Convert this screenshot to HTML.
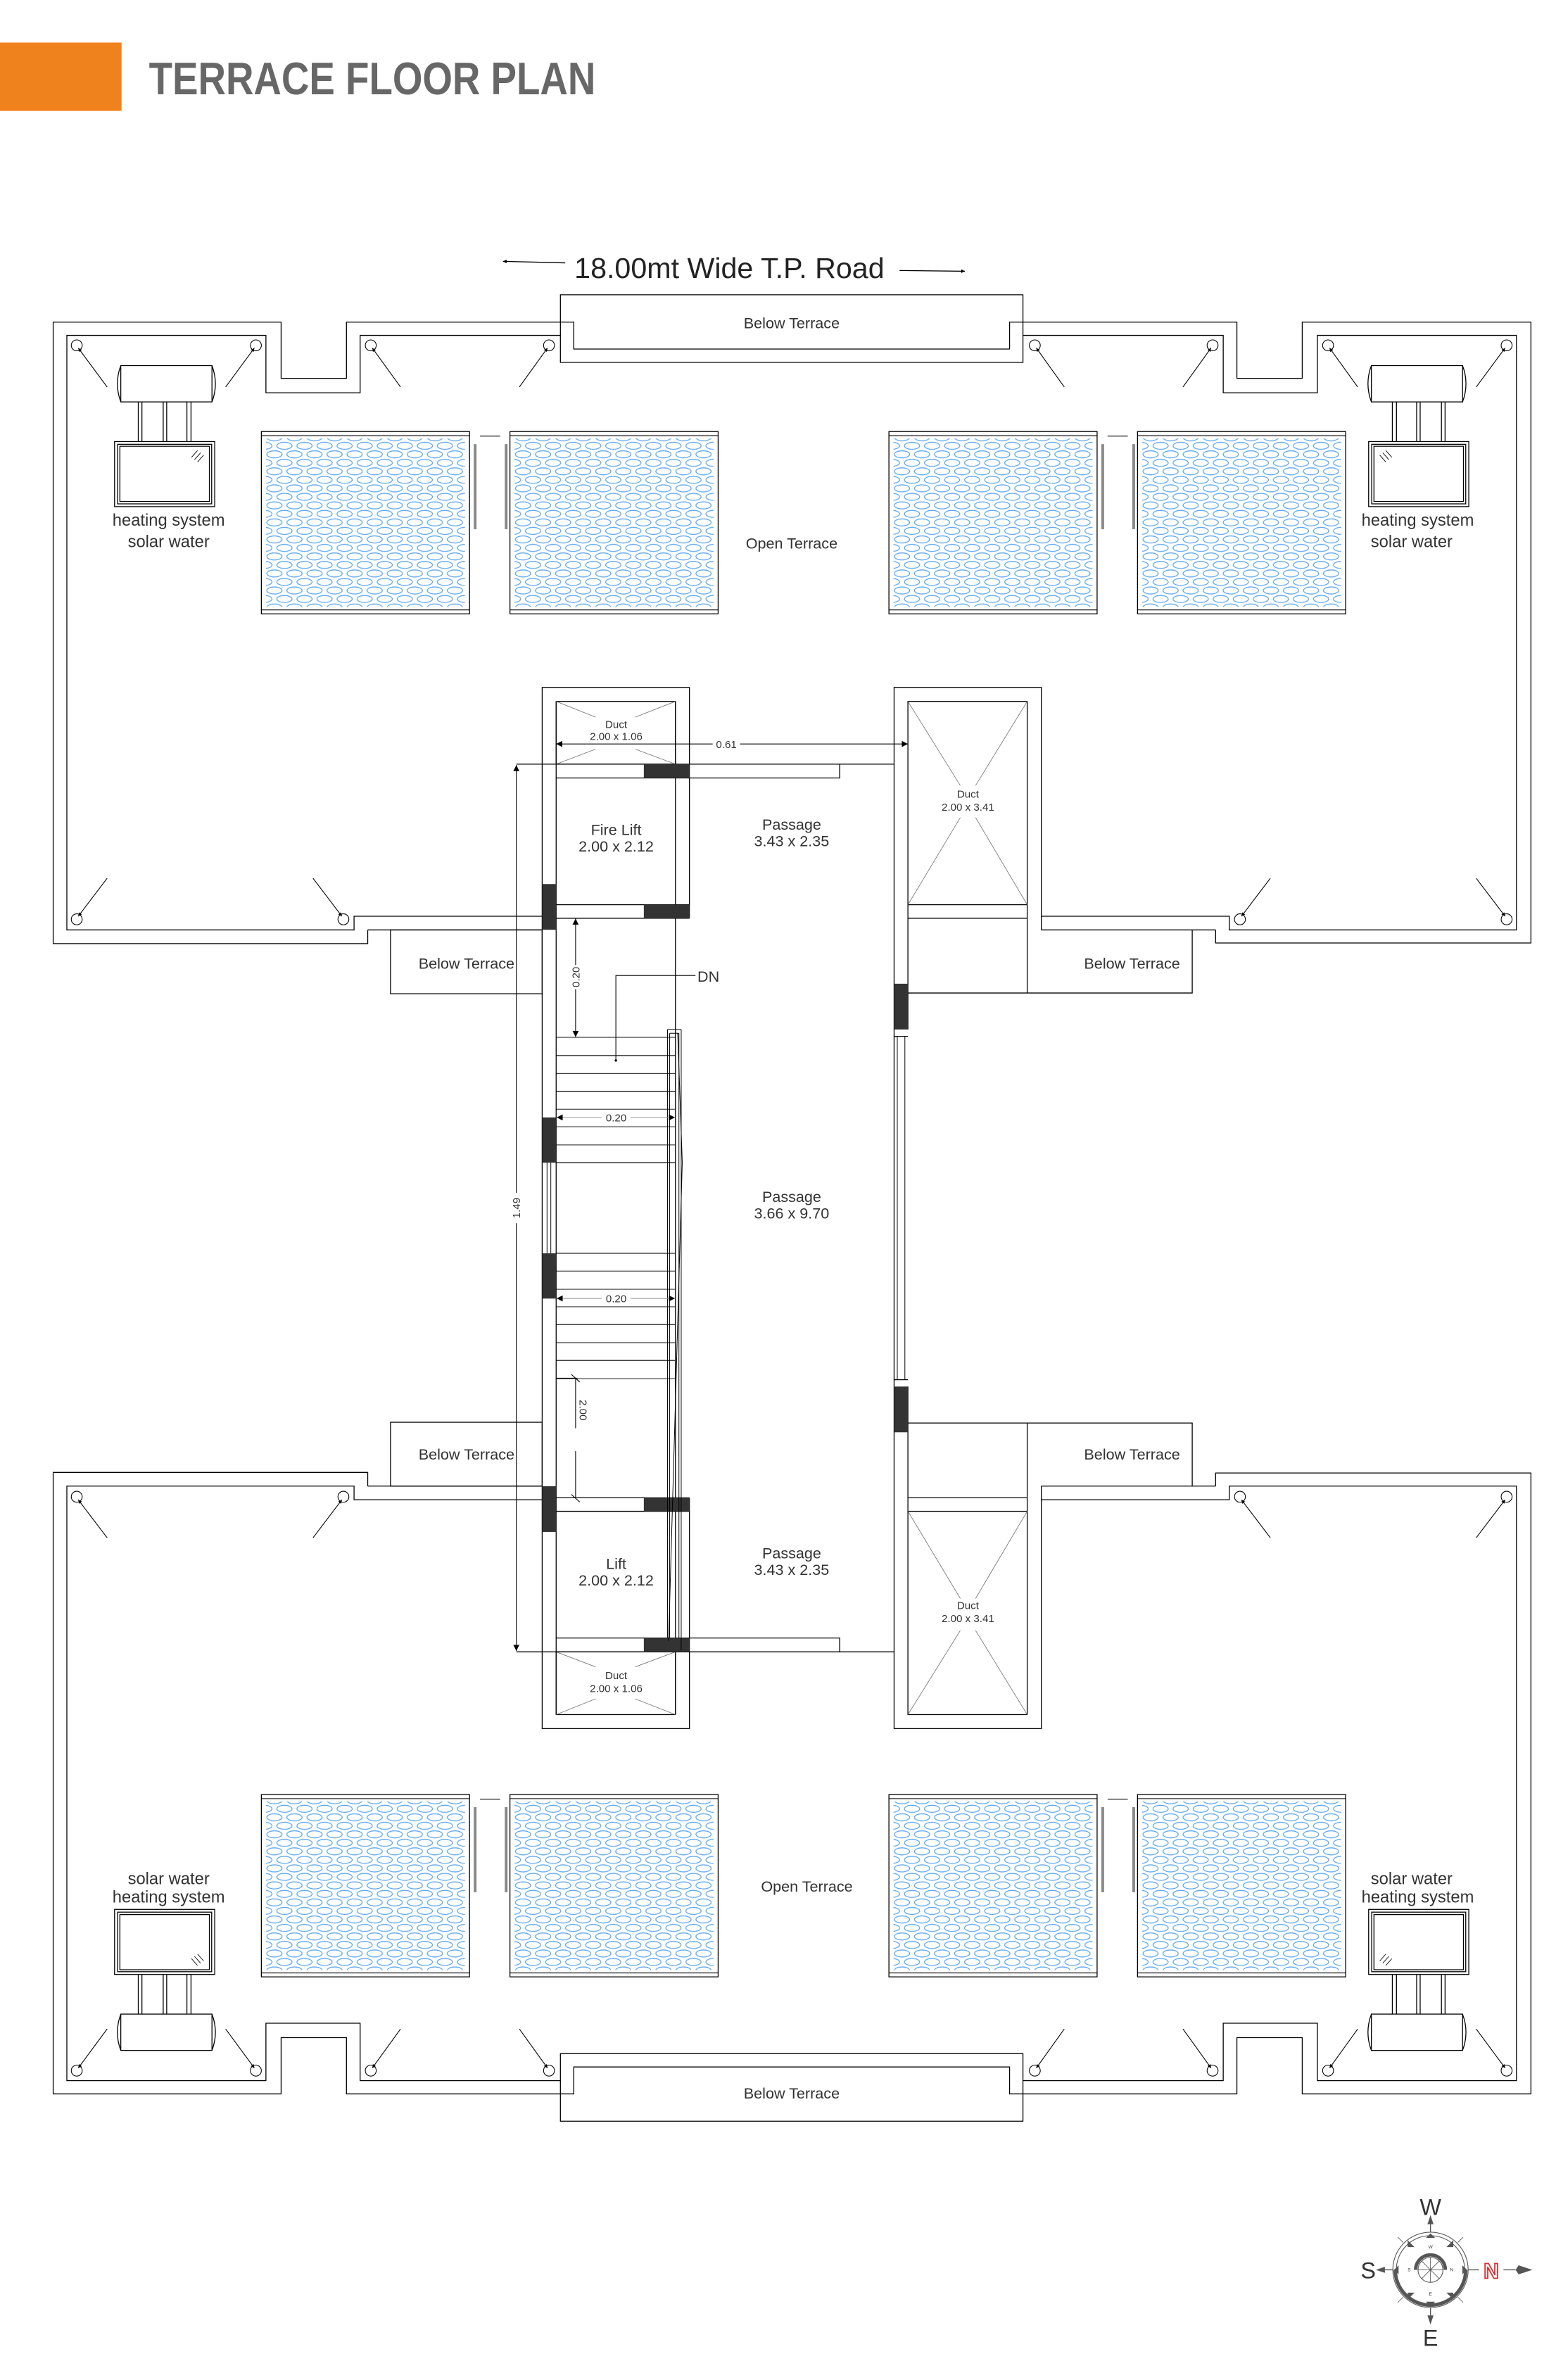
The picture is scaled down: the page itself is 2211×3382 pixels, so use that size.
<!DOCTYPE html>
<html><head><meta charset="utf-8"><style>
html,body{margin:0;padding:0;background:#fff}
svg{display:block}
text{font-family:"Liberation Sans",Arial,sans-serif;fill:#333}
</style></head><body>
<svg width="2211" height="3382" viewBox="0 0 1024 1566.3" preserveAspectRatio="none" xmlns="http://www.w3.org/2000/svg">
<defs>
<marker id="ar" viewBox="0 0 10 10" refX="10" refY="5" markerUnits="userSpaceOnUse" markerWidth="7" markerHeight="4" orient="auto-start-reverse"><path d="M0,0L10,5L0,10z" fill="#000"/></marker>
<marker id="ars" viewBox="0 0 10 10" refX="10" refY="5" markerUnits="userSpaceOnUse" markerWidth="3" markerHeight="2.4" orient="auto-start-reverse"><path d="M0,0L10,5L0,10z" fill="#000"/></marker>
<pattern id="ell" patternUnits="userSpaceOnUse" width="13.2" height="11.2" x="2" y="1">
<g fill="none" stroke="#5aa6f0" stroke-width="0.6">
<ellipse cx="6.6" cy="2.8" rx="5" ry="2.3"/>
<ellipse cx="0" cy="8.4" rx="5" ry="2.3"/>
<ellipse cx="13.2" cy="8.4" rx="5" ry="2.3"/>
</g></pattern>
<g id="panel">
<rect x="0" y="0" width="137" height="120" fill="#fff" stroke="#000" stroke-width="0.6"/>
<line x1="0" y1="2.7" x2="137" y2="2.7" stroke="#000" stroke-width="0.5"/>
<line x1="0" y1="117.4" x2="137" y2="117.4" stroke="#000" stroke-width="0.5"/>
<rect x="3" y="4.5" width="131" height="111" fill="url(#ell)"/>
</g>
<g id="panelpair">
<use href="#panel" x="172" y="284"/>
<use href="#panel" x="335.6" y="284"/>
<line x1="315.9" y1="287" x2="329.2" y2="287" stroke="#000" stroke-width="0.5"/>
<rect x="311.8" y="292.3" width="1.8" height="56" fill="#888"/>
<rect x="332.2" y="292.3" width="1.8" height="56" fill="#888"/>
</g>
<g id="heater" fill="none" stroke="#000" stroke-width="0.6">
<rect x="79.5" y="240.6" width="60" height="23.9" fill="#fff"/>
<path d="M79.5,240.6 Q75,252.5 79.5,264.5 M139.5,240.6 Q144,252.5 139.5,264.5"/>
<path d="M91,264.5V290.6 M93.4,264.5V290.6 M107.4,264.5V290.6 M109.7,264.5V290.6 M123,264.5V290.6 M125.7,264.5V290.6"/>
<rect x="75.4" y="290.6" width="65.9" height="42.8"/>
<rect x="77.4" y="292.4" width="61.9" height="39.2"/>
<rect x="78.9" y="293.7" width="58.9" height="36.3"/>
<path d="M126,301 L130,296.5 M128,302.5 L132,298 M130,304 L134,299.5" stroke-width="0.4"/>
</g>
<g id="half" fill="none" stroke="#000" stroke-width="0.6">
<path d="M242,612 V621 H35 V212 H185 V249 H228 V212 H377.6 V229.7 H664.4 V212 H814 V249 H857 V212 H1007.5 V620.6 H800 V612"/>
<path d="M356.8,603 H233 V612 H44 V220.7 H175 V258.5 H237 V220.7 H368.8 V238.5 H673.2 V220.7 H805 V258.5 H867 V220.7 H998 V612 H809 V603 H685.3"/>
<path d="M368.8,220.7 V194 H673.2 V220.7"/>
<path d="M242,612 H356.8 M685.3,612 H800"/>
<rect x="257" y="612" width="99.8" height="42"/>
<path d="M597.5,653.5 H784.6 V612"/>
<g stroke-width="0.5">
<circle cx="50.5" cy="227.3" r="3.6"/><circle cx="168.4" cy="227.3" r="3.6"/><circle cx="244" cy="227.3" r="3.6"/><circle cx="361.3" cy="227.3" r="3.6"/>
<circle cx="681" cy="227.3" r="3.6"/><circle cx="798" cy="227.3" r="3.6"/><circle cx="874" cy="227.3" r="3.6"/><circle cx="991.5" cy="227.3" r="3.6"/>
<circle cx="50.5" cy="605" r="3.6"/><circle cx="226" cy="605" r="3.6"/><circle cx="816" cy="605" r="3.6"/><circle cx="991.5" cy="605" r="3.6"/>
<line x1="70.5" y1="254.7" x2="51.5" y2="229" marker-end="url(#ars)"/>
<line x1="148.5" y1="254.7" x2="167.4" y2="229" marker-end="url(#ars)"/>
<line x1="263.6" y1="254.7" x2="245" y2="229" marker-end="url(#ars)"/>
<line x1="341.8" y1="254.7" x2="360.3" y2="229" marker-end="url(#ars)"/>
<line x1="700.4" y1="254.7" x2="682" y2="229" marker-end="url(#ars)"/>
<line x1="778.5" y1="254.7" x2="797" y2="229" marker-end="url(#ars)"/>
<line x1="893.5" y1="254.7" x2="875" y2="229" marker-end="url(#ars)"/>
<line x1="971.5" y1="254.7" x2="990.5" y2="229" marker-end="url(#ars)"/>
<line x1="70.5" y1="578" x2="51.5" y2="603" marker-end="url(#ars)"/>
<line x1="206" y1="578" x2="225" y2="603" marker-end="url(#ars)"/>
<line x1="836" y1="578" x2="817" y2="603" marker-end="url(#ars)"/>
<line x1="971.5" y1="578" x2="990.5" y2="603" marker-end="url(#ars)"/>
</g>
<path d="M356.8,795 V452.4 H453.7 V604.3 M366,795 V461.6 M444.5,795 V461.6"/>
<rect x="366" y="461.6" width="78.5" height="41.3"/>
<path d="M366,461.6 L392,472 M444.5,461.6 L418,472 M366,502.9 L392,493 M444.5,502.9 L418,493" stroke="#777" stroke-width="0.4"/>
<path d="M339.8,502.9 H588.4 M366,512 H552.6 V502.9 M366,595.4 H453.7 M366,604.3 H453.7"/>
<g stroke-width="0.4">
<path d="M366,682.7H444.5 M366,706.4H444.5 M366,730H444.5 M366,741.5H444.5 M366,753.5H444.5"/>
</g>
<path d="M366,694.7H444.5 M366,718.3H444.5 M366,765.2H444.5" stroke-width="0.55"/>
<path d="M360,765.2V795 M362.5,765.2V795" stroke-width="0.45"/>
<path d="M588.4,795 V452.4 H685.3 V612"/>
<rect x="597.5" y="461.6" width="78.5" height="133.8"/>
<path d="M597.5,461.6 L632,517 M676,461.6 L642,517 M597.5,595.4 L632,538 M676,595.4 L642,538" stroke="#777" stroke-width="0.4"/>
<path d="M597.5,604.3 H676 M597.5,595.4 V677.5 M676,595.4 V653.5 M588.4,682 H597.5"/>
<path d="M590.5,682V795 M595.5,682V795" stroke-width="0.45"/>
</g>
<g id="blocks" fill="#333">
<rect x="423.7" y="502.9" width="30" height="9.1"/>
<rect x="423.7" y="595.4" width="30" height="8.9"/>
<rect x="356.8" y="581.8" width="9.2" height="30.1"/>
<rect x="356.8" y="735.4" width="9.2" height="29.8"/>
<rect x="588.4" y="647.4" width="9.1" height="30.1"/>
</g>
</defs>

<rect x="0" y="28" width="80" height="45" fill="#F0821E"/>
<text x="98" y="62" font-size="30" font-weight="bold" style="fill:#676767" textLength="294" lengthAdjust="spacingAndGlyphs">TERRACE FLOOR PLAN</text>

<text x="378" y="183" font-size="19" style="fill:#222" textLength="204" lengthAdjust="spacingAndGlyphs">18.00mt Wide T.P. Road</text>
<line x1="372" y1="173" x2="331" y2="172" stroke="#000" stroke-width="0.6" marker-end="url(#ars)"/>
<line x1="592" y1="178" x2="635" y2="178.5" stroke="#000" stroke-width="0.6" marker-end="url(#ars)"/>

<use href="#half"/>
<use href="#half" transform="matrix(1,0,0,-1,0,1590)"/>
<use href="#blocks"/>
<use href="#blocks" transform="matrix(1,0,0,-1,0,1590)"/>

<g fill="none" stroke="#000" stroke-width="0.45">
<path d="M439.3,677.5V1078 M440.7,680V1078 M446.8,680V1078 M448.3,677.5V1086 M439.3,677.5H448.3 M440.7,680H446.8"/>
<polyline points="446,680 449,765 440,1080"/>
</g>

<use href="#heater"/>
<use href="#heater" transform="matrix(-1,0,0,1,1042,0)"/>
<use href="#heater" transform="matrix(1,0,0,-1,0,1590)"/>
<use href="#heater" transform="matrix(-1,0,0,-1,1042,1590)"/>

<use href="#panelpair"/>
<use href="#panelpair" x="413"/>
<use href="#panelpair" y="897"/>
<use href="#panelpair" x="413" y="897"/>

<g fill="none" stroke="#000" stroke-width="0.5">
<line x1="366" y1="489.6" x2="597.5" y2="489.6" marker-start="url(#ar)" marker-end="url(#ar)"/>
<line x1="339.8" y1="503.5" x2="339.8" y2="1086.5" marker-start="url(#ar)" marker-end="url(#ar)"/>
<line x1="378.8" y1="604.5" x2="378.8" y2="682.5" marker-start="url(#ar)" marker-end="url(#ar)"/>
<line x1="366.3" y1="735.4" x2="444.2" y2="735.4" marker-start="url(#ar)" marker-end="url(#ar)" stroke="#999"/>
<line x1="366.3" y1="854.5" x2="444.2" y2="854.5" marker-start="url(#ar)" marker-end="url(#ar)" stroke="#999"/>
<path d="M405.3,697.9 V642 H457.7" />
<path d="M378.8,907 V940 M378.8,955 V986 M366,907 H380 M376,904.5 L381.5,909.5 M376,983.5 L381.5,988.5"/>
</g>
<circle cx="405.3" cy="697.9" r="0.8" fill="#000"/>
<g font-size="7" text-anchor="middle">
<rect x="469" y="486" width="18" height="7" fill="#fff"/>
<text x="478" y="492.3">0.61</text>
<rect x="337" y="785" width="6" height="20" fill="#fff"/>
<text transform="translate(342.3,795) rotate(-90)">1.49</text>
<rect x="376" y="635" width="6" height="16" fill="#fff"/>
<text transform="translate(381.3,643) rotate(-90)">0.20</text>
<rect x="396" y="731.5" width="19" height="8" fill="#fff"/>
<text x="405.5" y="738">0.20</text>
<rect x="396" y="850.5" width="19" height="8" fill="#fff"/>
<text x="405.5" y="857">0.20</text>
<text transform="translate(381.3,928) rotate(90)">2.00</text>
</g>
<text x="459" y="646" font-size="10">DN</text>

<g font-size="10" text-anchor="middle">
<text x="521" y="216">Below Terrace</text>
<text x="521" y="1381">Below Terrace</text>
<text x="521" y="361">Open Terrace</text>
<text x="531" y="1245">Open Terrace</text>
<text x="307" y="637.5">Below Terrace</text>
<text x="745" y="637.5">Below Terrace</text>
<text x="307" y="960.5">Below Terrace</text>
<text x="745" y="960.5">Below Terrace</text>
<text x="521" y="546">Passage</text>
<text x="521" y="557">3.43 x 2.35</text>
<text x="521" y="791">Passage</text>
<text x="521" y="802">3.66 x 9.70</text>
<text x="521" y="1025.5">Passage</text>
<text x="521" y="1036.5">3.43 x 2.35</text>
<text x="405.5" y="549.5">Fire Lift</text>
<text x="405.5" y="560.5">2.00 x 2.12</text>
<text x="405.5" y="1032.5">Lift</text>
<text x="405.5" y="1043.5">2.00 x 2.12</text>
</g>
<g font-size="7" text-anchor="middle">
<text x="405.5" y="479">Duct</text>
<text x="405.5" y="487">2.00 x 1.06</text>
<text x="637" y="525">Duct</text>
<text x="637" y="533.5">2.00 x 3.41</text>
<text x="637" y="1059">Duct</text>
<text x="637" y="1067.5">2.00 x 3.41</text>
<text x="405.5" y="1105">Duct</text>
<text x="405.5" y="1113.5">2.00 x 1.06</text>
</g>
<g font-size="11" text-anchor="middle">
<text x="111" y="346">heating system</text>
<text x="111" y="360">solar water</text>
<text x="933" y="346">heating system</text>
<text x="929" y="360">solar water</text>
<text x="111" y="1240">solar water</text>
<text x="111" y="1252">heating system</text>
<text x="929" y="1240">solar water</text>
<text x="933" y="1252">heating system</text>
</g>

<g transform="translate(941.4,1493.8)">
<g fill="none" stroke="#555">
<circle r="24.8" stroke-width="0.5"/>
<circle r="22.5" stroke-width="0.5"/>
<path d="M-23.2,0 A23.2,23.2 0 0 0 23.2,0" stroke-width="2.3"/>
<circle r="8.2" stroke-width="0.5"/>
<path d="M-9.8,0 A9.8,9.8 0 0 1 9.8,0" stroke-width="2.2"/>
<path d="M0,-8 V8 M-8,0 H8 M-5.7,-5.7 L5.7,5.7 M-5.7,5.7 L5.7,-5.7" stroke-width="0.4"/>
<path d="M-21.5,-21.5 L-18,-18 M21.5,-21.5 L18,-18 M-21.5,21.5 L-18,18 M21.5,21.5 L18,18" stroke-width="0.4"/>
<path d="M0,-24.8 V-32 M-24.8,0 H-33 M0,24.8 V32 M24.8,0 H32" stroke-width="0.6"/>
<path d="M48,0 H56" stroke-width="0.6"/>
</g>
<g fill="#555">
<path d="M0,-36 L-2,-30 H2z M-36,0 L-30,-2 V2z M0,36 L-2,30 H2z"/>
<path d="M56,0 L58,-3 L67,0 L58,3z"/>
<path d="M-3,-21 H3 L0,-24z M-3,21 H3 L0,24z M-21,-3 V3 L-24,0z M21,-3 V3 L24,0z"/>
<path d="M-15,-15 l4.5,0 l-4.5,-4.5z M15,-15 l-4.5,0 l4.5,-4.5z M-15,15 l4.5,0 l-4.5,4.5z M15,15 l-4.5,0 l4.5,4.5z"/>
</g>
<g font-size="3" text-anchor="middle" style="fill:#555">
<text x="0" y="-14">W</text><text x="0" y="17">E</text>
<text x="-14" y="1">S</text><text x="14" y="1">N</text>
</g>
<g font-size="15" text-anchor="middle" style="fill:#4a4a4a">
<text x="0" y="-36">W</text>
<text x="-41" y="5.5">S</text>
<text x="0" y="50">E</text>
</g>
<text x="40" y="5.5" font-size="14" font-weight="bold" text-anchor="middle" style="fill:#fff;stroke:#e0262b;stroke-width:0.8">N</text>
</g>
</svg>
</body></html>
